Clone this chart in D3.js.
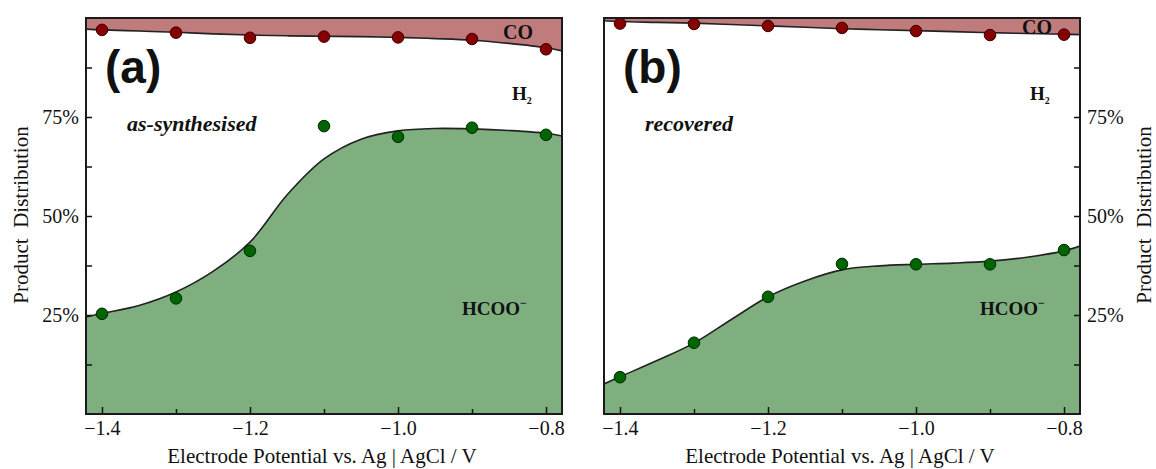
<!DOCTYPE html>
<html>
<head>
<meta charset="utf-8">
<script src="https://cdn.jsdelivr.net/npm/d3@7"></script>
<style>
  body { margin: 0; background: #fff; }
  text { font-family: "Liberation Serif", "DejaVu Serif", serif; fill: #111; }
</style>
</head>
<body>
<div id="Canvas"></div>
<script>
// potentials of the measured points
const potentials = [-1.4, -1.3, -1.2, -1.1, -1.0, -0.9, -0.8]
// measured points: top of HCOO- and top of H2 (=100 - CO), in %
const asSynHCOO = [25.3, 29.2, 41.2, 72.7, 70.0, 72.3, 70.5]
const asSynCO = [97.0, 96.3, 95.0, 95.3, 95.1, 94.7, 92.1]
const recHCOO = [9.3, 18.0, 29.6, 37.9, 37.8, 37.8, 41.4]
const recCO = [98.6, 98.5, 98.0, 97.5, 96.7, 95.7, 95.8]
// smoothed boundaries
const fitPot = [-1.4216, -1.4, -1.35, -1.3, -1.25, -1.2, -1.15, -1.1, -1.05, -1.0, -0.95, -0.9, -0.85, -0.8, -0.7784]
const asSynHCOOFit = [24.5, 25.4, 27.4, 30.8, 36.0, 43.4, 55.3, 64.4, 69.4, 71.5, 72.1, 72.0, 71.6, 70.9, 70.2]
const asSynCOFit = [97.2, 97.0, 96.7, 96.4, 96.0, 95.7, 95.5, 95.4, 95.3, 95.1, 94.8, 94.4, 93.6, 92.5, 91.7]
const recHCOOFit = [7.6, 9.4, 13.5, 17.9, 23.8, 29.6, 33.6, 36.4, 37.4, 37.8, 38.1, 38.6, 39.6, 41.2, 42.4]
const recCOFit = [99.3, 99.1, 98.9, 98.7, 98.35, 98.0, 97.65, 97.3, 97.05, 96.8, 96.55, 96.3, 96.1, 95.9, 95.8]
// ticks
const xMajor = [-1.4, -1.2, -1.0, -0.8]
const xMinor = [-1.3, -1.1, -0.9]
const yMajor = [25, 50, 75]
const yMinor = [12.5, 37.5, 62.5, 87.5]

let svg = d3.select("#Canvas")
    .append("svg")
    .attr("width", 1156)
    .attr("height", 469)

let yScale = d3.scaleLinear()
    .domain([0, 100])
    .range([414, 18])

const minus = (v) => d3.format(".1f")(v).replace("-", "\u2212")

function panel(opt){
    let xScale = d3.scaleLinear()
        .domain([fitPot[0], fitPot[fitPot.length - 1]])
        .range([opt.left, opt.left + 476])
    let g = svg.append("g")
    let clipId = "clip" + opt.name
    svg.append("clipPath").attr("id", clipId)
        .append("rect")
        .attr("x", opt.left).attr("y", yScale(100))
        .attr("width", 476).attr("height", yScale(0) - yScale(100))
    let plot = g.append("g").attr("clip-path", "url(#" + clipId + ")")

    // red band (CO) from the top down to the boundary, green (HCOO-) from the bottom up
    let redArea = d3.area()
        .x((d, i) => xScale(fitPot[i]))
        .y0(yScale(100))
        .y1(d => yScale(d))
        .curve(d3.curveCatmullRom)
    let greenArea = d3.area()
        .x((d, i) => xScale(fitPot[i]))
        .y0(yScale(0))
        .y1(d => yScale(d))
        .curve(d3.curveCatmullRom)
    let line = d3.line()
        .x((d, i) => xScale(fitPot[i]))
        .y(d => yScale(d))
        .curve(d3.curveCatmullRom)

    plot.append("path").datum(opt.coFit).attr("d", redArea).attr("fill", "#c07c7c")
    plot.append("path").datum(opt.hcooFit).attr("d", greenArea).attr("fill", "#7faf7f")
    plot.append("path").datum(opt.coFit).attr("d", line)
        .attr("fill", "none").attr("stroke", "#222").attr("stroke-width", 1.6)
    plot.append("path").datum(opt.hcooFit).attr("d", line)
        .attr("fill", "none").attr("stroke", "#222").attr("stroke-width", 1.6)

    // points
    g.append("g").selectAll("circle")
        .data(opt.co).enter().append("circle")
        .attr("cx", (d, i) => xScale(potentials[i]))
        .attr("cy", d => yScale(d))
        .attr("r", 5.8)
        .style("fill", "#870000").style("stroke", "#3a0000").style("stroke-width", 1)
    g.append("g").selectAll("circle")
        .data(opt.hcoo).enter().append("circle")
        .attr("cx", (d, i) => xScale(potentials[i]))
        .attr("cy", d => yScale(d))
        .attr("r", 5.8)
        .style("fill", "#006400").style("stroke", "#002a00").style("stroke-width", 1)

    // x axis, ticks pointing in
    let xAxis = g.append("g").attr("transform", "translate(0," + yScale(0) + ")")
        .call(d3.axisBottom(xScale).tickValues(xMajor).tickSize(-7).tickPadding(7).tickFormat(minus))
    xAxis.append("g").call(d3.axisBottom(xScale).tickValues(xMinor).tickSize(-5).tickFormat(""))
    xAxis.selectAll(".domain").remove()
    xAxis.selectAll("line").attr("stroke", "#111").attr("stroke-width", 1.5)
    xAxis.selectAll("text").style("font-size", "20px").attr("fill", "#111")

    // y axis on the left or right
    let yx = opt.rightAxis ? opt.left + 476 : opt.left
    let mk = opt.rightAxis ? d3.axisRight : d3.axisLeft
    let yAxis = g.append("g").attr("transform", "translate(" + yx + ",0)")
        .call(mk(yScale).tickValues(yMajor).tickSize(-6).tickPadding(7).tickFormat(d => d + "%"))
    yAxis.append("g").call(mk(yScale).tickValues(yMinor).tickSize(-6).tickFormat(""))
    yAxis.selectAll(".domain").remove()
    yAxis.selectAll("line").attr("stroke", "#111").attr("stroke-width", 1.5)
    yAxis.selectAll("text").style("font-size", "20px").attr("fill", "#111")

    // frame
    g.append("rect")
        .attr("x", opt.left).attr("y", yScale(100))
        .attr("width", 476).attr("height", yScale(0) - yScale(100))
        .attr("fill", "none").attr("stroke", "#1a1a1a").attr("stroke-width", 2)

    // labels
    g.append("text").attr("x", opt.left + 19).attr("y", 83)
        .style("font-family", "'Liberation Sans', Arial, sans-serif")
        .style("font-weight", "bold").style("font-size", "46px")
        .text(opt.tag)
    g.append("text").attr("x", opt.left + opt.noteX).attr("y", 131)
        .style("font-weight", "bold").style("font-style", "italic").style("font-size", "22px")
        .text(opt.note)
    g.append("text").attr("x", opt.left + opt.coX).attr("y", opt.coY)
        .style("font-weight", "bold").style("font-size", "20px")
        .text("CO")
    let h2 = g.append("text").attr("x", opt.left + 426).attr("y", 100)
        .style("font-weight", "bold").style("font-size", "19px")
    h2.append("tspan").text("H")
    h2.append("tspan").attr("dy", 4).style("font-size", "10px").text("2")
    let hc = g.append("text").attr("x", opt.left + 376).attr("y", 315)
        .style("font-weight", "bold").style("font-size", "19px")
    hc.append("tspan").text("HCOO")
    hc.append("tspan").attr("dy", -8).style("font-size", "12px").text("\u2212")

    // x title
    g.append("text")
        .attr("x", opt.left + 236).attr("y", 463)
        .attr("text-anchor", "middle").style("font-size", "21px")
        .text("Electrode Potential vs. Ag | AgCl / V")
    // y title
    g.append("text")
        .attr("transform", "translate(" + opt.yTitleX + ",215) rotate(-90)")
        .attr("text-anchor", "middle").style("font-size", "21px")
        .style("white-space", "pre")
        .text("Product  Distribution")
}

panel({name: "a", left: 86, tag: "(a)", note: "as-synthesised", noteX: 41,
    co: asSynCO, hcoo: asSynHCOO, coFit: asSynCOFit, hcooFit: asSynHCOOFit,
    coX: 417, coY: 39, rightAxis: false, yTitleX: 28})
panel({name: "b", left: 604, tag: "(b)", note: "recovered", noteX: 41,
    co: recCO, hcoo: recHCOO, coFit: recCOFit, hcooFit: recHCOOFit,
    coX: 418, coY: 34, rightAxis: true, yTitleX: 1151})
</script>
</body>
</html>
